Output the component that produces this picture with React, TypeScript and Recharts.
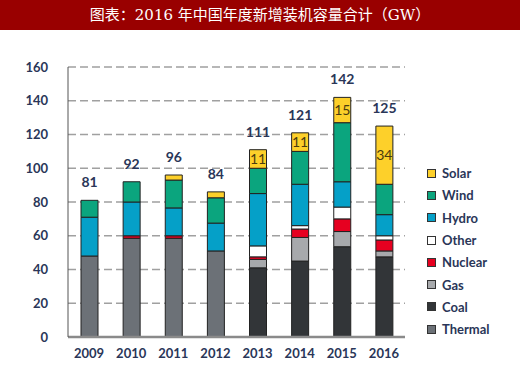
import React from 'react';
import { BarChart, Bar, XAxis, YAxis, CartesianGrid, LabelList } from 'recharts';

const years = ['2009', '2010', '2011', '2012', '2013', '2014', '2015', '2016'];

// GW added per source
const thermal = [48, 58.5, 58.5, 51, 0, 0, 0, 0];
const coal = [0, 0, 0, 0, 41, 45, 53.5, 47.5];
const gas = [0, 0, 0, 0, 5, 14, 9, 3.5];
const nuclear = [0, 1.5, 1.5, 0, 1.5, 5, 7.5, 6.5];
const other = [0, 0, 0, 0, 6.5, 2, 7, 2.5];
const hydro = [23, 20, 16.5, 16.5, 31, 24.5, 15, 12.5];
const wind = [10, 12, 16.5, 15, 15, 19.5, 35, 18];
const solar = [0, 0, 3, 3.5, 11, 11, 15, 34.5];

const totals = [81, 92, 96, 84, 111, 121, 142, 125];
const solarLabels = [null, null, null, null, 11, 11, 15, 34];
const yTicks = [0, 20, 40, 60, 80, 100, 120, 140, 160];

const SERIES = [
  { key: 'Thermal', values: thermal, color: '#6c7177' },
  { key: 'Coal', values: coal, color: '#323538' },
  { key: 'Gas', values: gas, color: '#a7a9ac' },
  { key: 'Nuclear', values: nuclear, color: '#e60020' },
  { key: 'Other', values: other, color: '#ffffff' },
  { key: 'Hydro', values: hydro, color: '#05a0c8' },
  { key: 'Wind', values: wind, color: '#0ba57e' },
  { key: 'Solar', values: solar, color: '#fdd02a' },
];

// which series sits on top of each stack (the total label goes there)
const topSeries = years.map((_, i) => {
  let top = SERIES[0].key;
  SERIES.forEach(s => { if (s.values[i] > 0) top = s.key; });
  return top;
});

const data = years.map((year, i) => {
  const row: any = { year, total: totals[i], top: topSeries[i], solarLabel: solarLabels[i] };
  SERIES.forEach(s => { row[s.key] = s.values[i]; });
  return row;
});

const FONT = 'Lato, "Open Sans", sans-serif';
const TEXT = '#2a3658';

const App: React.FC = () => {
  return (
    <div style={{ position: 'absolute', left: 0, top: 0, width: 520, height: 367, background: '#fff' }}>
      <div
        style={{
          height: 30,
          background: '#990000',
          color: '#fff',
          fontFamily: '"DejaVu Serif", "Noto Sans CJK SC", serif',
          fontSize: 15,
          lineHeight: '30px',
          textAlign: 'center',
        }}
      >
        图表：2016 年中国年度新增装机容量合计（GW）
      </div>
      <div style={{ position: 'absolute', left: 0, top: 0 }}>
        <BarChart
          width={520}
          height={367}
          data={data}
          margin={{ top: 67, right: 115, bottom: 0, left: 0 }}
          barSize={17}
        >
          <CartesianGrid vertical={false} stroke="#a0a0a0" strokeDasharray="8 4" strokeWidth={1.3} />
          <XAxis
            dataKey="year"
            height={30}
            axisLine={{ stroke: '#8a8a8a', strokeWidth: 2.5 }}
            tickLine={false}
            tickMargin={6}
            tick={{ fill: TEXT, fontSize: 13, fontWeight: 700, fontFamily: FONT }}
          />
          <YAxis
            width={68}
            domain={[0, 160]}
            ticks={yTicks}
            axisLine={{ stroke: '#555', strokeWidth: 1 }}
            tickLine={false}
            tickMargin={14}
            tick={{ fill: TEXT, fontSize: 13, fontWeight: 700, fontFamily: FONT }}
          />
          {SERIES.map(s => (
            <Bar
              key={s.key}
              dataKey={s.key}
              stackId="a"
              fill={s.color}
              stroke="#222"
              strokeWidth={1}
              isAnimationActive={false}
            >
              <LabelList
                dataKey={(row: any) => (row.top === s.key ? row.total : null)}
                position="top"
                offset={13}
                fill={TEXT}
                fontSize={14}
                fontWeight={700}
                fontFamily={FONT}
              />
              {s.key === 'Solar' && (
                <LabelList
                  dataKey="solarLabel"
                  position="center"
                  fill="#4a3c10"
                  fontSize={14}
                  fontFamily={FONT}
                />
              )}
            </Bar>
          ))}
        </BarChart>
      </div>
      <div
        style={{
          position: 'absolute',
          left: 427,
          top: 162,
          fontFamily: FONT,
          fontSize: 13,
          fontWeight: 700,
          color: TEXT,
        }}
      >
        {[...SERIES].reverse().map(s => (
          <div key={s.key} style={{ display: 'flex', alignItems: 'center', height: 22.3 }}>
            <div style={{ width: 7, height: 7, background: s.color, border: '1px solid #333', marginRight: 6 }}></div>
            <span>{s.key}</span>
          </div>
        ))}
      </div>
    </div>
  );
};

export default App;
